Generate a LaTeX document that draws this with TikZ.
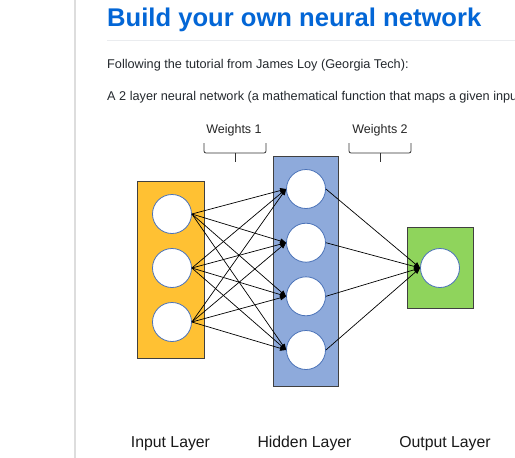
\documentclass[tikz,border=0pt]{standalone}
\usepackage{fontspec}
\setmainfont{Liberation Sans}
\usetikzlibrary{arrows.meta}

\definecolor{titleblue}{HTML}{0366D6}
\definecolor{rulegray}{HTML}{EAECEF}
\definecolor{sidegray}{HTML}{DDDDDD}
\definecolor{bodytext}{HTML}{24292E}
\definecolor{inputfill}{HTML}{FFC133}
\definecolor{hiddenfill}{HTML}{8EAADB}
\definecolor{outputfill}{HTML}{8FD45C}
\definecolor{boxline}{HTML}{404040}
\definecolor{neuronline}{HTML}{4A72B8}

\begin{document}
\begin{tikzpicture}[x=1pt,y=-1pt,
    layerbox/.style={draw=boxline, line width=1pt, inner sep=0pt},
    neuron/.style={circle, draw=neuronline, fill=white, line width=0.8pt, minimum size=39pt, inner sep=0pt},
    weight/.style={-{Triangle[length=6pt,width=5pt]}, line width=0.7pt, draw=black},
    bracket/.style={draw=black!80, line width=0.8pt, rounded corners=2pt},
    caption/.style={inner sep=0pt, text=black!85, font=\fontsize{12.5}{15}\selectfont},
    layername/.style={inner sep=0pt, text=black!90, font=\fontsize{15.8}{19}\selectfont},
    body/.style={anchor=base west, inner sep=0pt, text=bodytext, font=\fontsize{12.7}{15}\selectfont}]
    \useasboundingbox[fill=white] (0,0) rectangle (515,458);

    % page
    \draw[sidegray, line width=1.5pt] (75,0) -- (75,458);
    \node[anchor=base west, inner sep=0pt, text=titleblue, font=\fontsize{25.6}{30}\selectfont\bfseries] (title) at (107,26) {Build your own neural network};
    \draw[rulegray, line width=1pt] (107,40) -- (515,40);
    \node[body] (intro) at (107,68) {Following the tutorial from James Loy (Georgia Tech):};
    \node[body] (desc) at (107,100) {A 2 layer neural network (a mathematical function that maps a given input};

    % layers
    \node[layerbox, fill=inputfill, minimum width=67pt, minimum height=177pt] (inbox) at (170.5,269.5) {};
    \node[layerbox, fill=hiddenfill, minimum width=65pt, minimum height=230pt] (hidbox) at (305.5,271) {};
    \node[layerbox, fill=outputfill, minimum width=66pt, minimum height=81pt] (outbox) at (440,267.5) {};

    \foreach \i/\y in {1/214, 2/268, 3/322}
        \node[neuron] (in\i) at (172,\y) {};
    \foreach \h/\y in {1/189, 2/242.7, 3/296.3, 4/350}
        \node[neuron] (hid\h) at (306,\y) {};
    \node[neuron] (out) at (440,268) {};

    % weights
    \foreach \i in {1,...,3}
        \foreach \h in {1,...,4}
            \draw[weight] (in\i.east) -- (hid\h.west);
    \foreach \h in {1,...,4}
        \draw[weight] (hid\h.east) -- (out.west);

    % brackets
    \node[caption, anchor=base] (w1) at (234,133.7) {Weights 1};
    \node[caption, anchor=base] (w2) at (380,133.7) {Weights 2};
    \draw[bracket] (204,143) |- (266,153) -- (266,143);
    \draw[bracket] (235,153) -- (235,162);
    \draw[bracket] (349,143) |- (411,153) -- (411,143);
    \draw[bracket] (380,153) -- (380,162);

    \node[layername, anchor=base] (inname) at (170.5,447) {Input Layer};
    \node[layername, anchor=base] (hidname) at (304.5,447) {Hidden Layer};
    \node[layername, anchor=base] (outname) at (445,447) {Output Layer};
\end{tikzpicture}
\end{document}
